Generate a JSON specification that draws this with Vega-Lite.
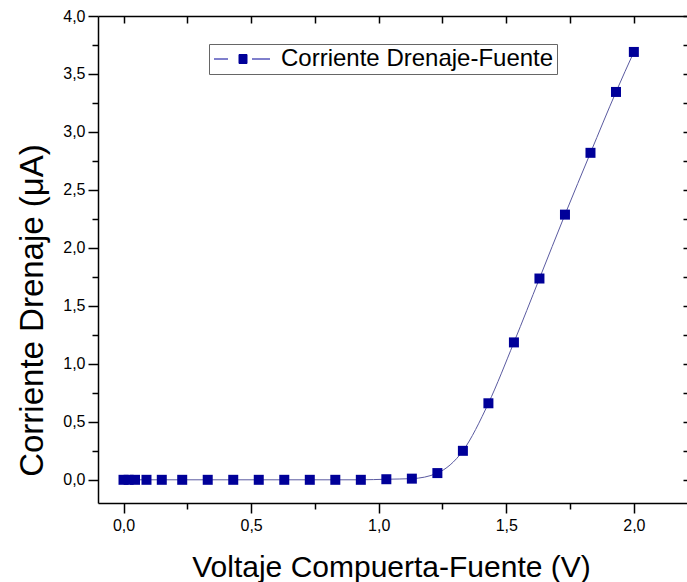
{
  "$schema": "https://vega.github.io/schema/vega-lite/v6.json",
  "width": 592,
  "height": 487,
  "autosize": "none",
  "padding": {"left": 98, "top": 16, "right": 0, "bottom": 79},
  "background": "white",
  "config": {
    "view": {"stroke": null},
    "font": "Liberation Sans",
    "axis": {
      "grid": false,
      "domainColor": "#000000",
      "domainWidth": 1.5,
      "tickColor": "#000000",
      "tickWidth": 1.5,
      "labelColor": "#000000",
      "labelFont": "Liberation Sans",
      "labelFontSize": 16,
      "labelOverlap": false,
      "labelFlush": false,
      "titleColor": "#000000",
      "titleFont": "Liberation Sans",
      "titleFontWeight": "normal"
    }
  },
  "data": {
    "values": [
      {"v": 0.0, "i": 0.0},
      {"v": 0.02, "i": 0.0},
      {"v": 0.045, "i": 0.0},
      {"v": 0.09, "i": 0.0},
      {"v": 0.15, "i": 0.0},
      {"v": 0.23, "i": 0.0},
      {"v": 0.33, "i": 0.0},
      {"v": 0.43, "i": 0.0},
      {"v": 0.53, "i": 0.0},
      {"v": 0.63, "i": 0.0},
      {"v": 0.73, "i": 0.0},
      {"v": 0.83, "i": 0.0},
      {"v": 0.93, "i": 0.0},
      {"v": 1.03, "i": 0.005},
      {"v": 1.13, "i": 0.01},
      {"v": 1.23, "i": 0.058},
      {"v": 1.33, "i": 0.25},
      {"v": 1.43, "i": 0.66},
      {"v": 1.53, "i": 1.185},
      {"v": 1.63, "i": 1.736},
      {"v": 1.73, "i": 2.287},
      {"v": 1.83, "i": 2.82},
      {"v": 1.93, "i": 3.345},
      {"v": 2.0, "i": 3.69}
    ]
  },
  "layer": [
    {
      "mark": {"type": "line", "interpolate": "monotone", "color": "#5a5aa0", "strokeWidth": 1},
      "encoding": {
        "x": {
          "field": "v", "type": "quantitative",
          "scale": {"domain": [-0.1, 2.22], "nice": false, "zero": false},
          "axis": {
            "orient": "bottom",
            "values": [0, 0.25, 0.5, 0.75, 1, 1.25, 1.5, 1.75, 2],
            "labelExpr": "abs(datum.value*2 - round(datum.value*2)) < 0.001 ? replace(format(datum.value, '.1f'), '.', ',') : ''",
            "tickSize": {"condition": {"test": "abs(datum.value*2 - round(datum.value*2)) < 0.001", "value": 10}, "value": 6},
            "labelPadding": 4,
            "title": "Voltaje Compuerta-Fuente (V)",
            "titleFontSize": 30,
            "titleBaseline": "alphabetic",
            "titleY": 73,
            "titleX": 293
          }
        },
        "y": {
          "field": "i", "type": "quantitative",
          "scale": {"domain": [-0.2, 4.0], "nice": false, "zero": false},
          "axis": {
            "orient": "left",
            "values": [0, 0.25, 0.5, 0.75, 1, 1.25, 1.5, 1.75, 2, 2.25, 2.5, 2.75, 3, 3.25, 3.5, 3.75, 4],
            "labelExpr": "abs(datum.value*2 - round(datum.value*2)) < 0.001 ? replace(format(datum.value, '.1f'), '.', ',') : ''",
            "tickSize": {"condition": {"test": "abs(datum.value*2 - round(datum.value*2)) < 0.001", "value": 10}, "value": 6},
            "labelPadding": 3,
            "title": "Corriente Drenaje (μA)",
            "titleFontSize": 33,
            "titleAngle": 270,
            "titleAlign": "center",
            "titleBaseline": "alphabetic",
            "titleX": -56,
            "titleY": 294
          }
        }
      }
    },
    {
      "mark": {"type": "point", "shape": "square", "filled": true, "size": 100, "opacity": 1},
      "encoding": {
        "x": {
          "field": "v", "type": "quantitative",
          "scale": {"domain": [-0.1, 2.22], "nice": false, "zero": false},
          "axis": {
            "orient": "top",
            "values": [0, 0.25, 0.5, 0.75, 1, 1.25, 1.5, 1.75, 2],
            "labels": false,
            "tickSize": -7,
            "title": null
          }
        },
        "y": {
          "field": "i", "type": "quantitative",
          "scale": {"domain": [-0.2, 4.0], "nice": false, "zero": false},
          "axis": {
            "orient": "right",
            "values": [0, 0.25, 0.5, 0.75, 1, 1.25, 1.5, 1.75, 2, 2.25, 2.5, 2.75, 3, 3.25, 3.5, 3.75, 4],
            "labels": false,
            "tickSize": -7,
            "title": null
          }
        },
        "color": {
          "datum": "Corriente Drenaje-Fuente",
          "type": "nominal",
          "scale": {"range": ["#000099"]},
          "legend": {
            "title": null,
            "orient": "none",
            "legendX": 111,
            "legendY": 28,
            "padding": 3,
            "strokeColor": "#666666",
            "fillColor": "white",
            "symbolType": "M-1,0L0.4,0M2.8,0L4.6,0M1.5,-0.45L2.3,-0.45L2.3,0.45L1.5,0.45Z",
            "symbolSize": 400,
            "symbolFillColor": "#000099",
            "symbolStrokeColor": "#000099",
            "symbolStrokeWidth": 1,
            "labelFontSize": 24,
            "labelLimit": 500,
            "labelFont": "Liberation Sans",
            "labelColor": "#000000",
            "labelOffset": 45,
            "encode": {
              "symbols": {
                "update": {
                  "fill": {"value": "#000099"},
                  "stroke": {"value": "#000099"},
                  "strokeWidth": {"value": 1},
                  "opacity": {"value": 1}
                }
              }
            }
          }
        }
      }
    }
  ],
  "resolve": {"axis": {"x": "independent", "y": "independent"}}
}
